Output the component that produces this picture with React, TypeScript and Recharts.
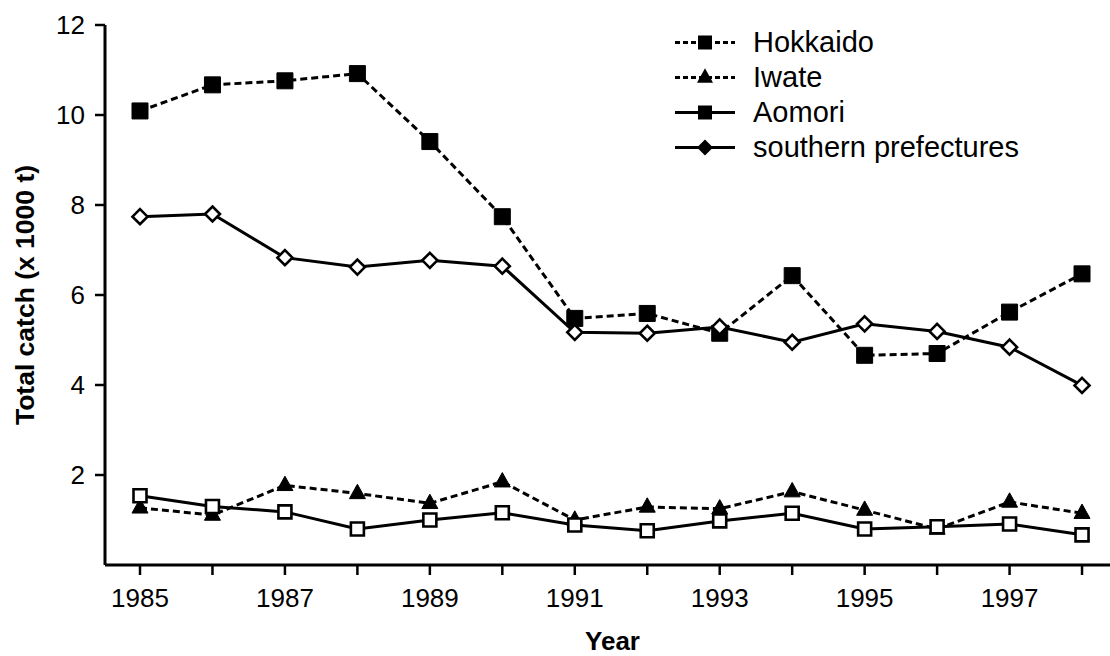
import React from 'react';
import { LineChart, Line, XAxis, YAxis, Legend, Label } from 'recharts';

const FONT = '"Liberation Sans", Arial, Helvetica, sans-serif';

const YEARS = [1985, 1986, 1987, 1988, 1989, 1990, 1991, 1992, 1993, 1994, 1995, 1996, 1997, 1998];
const HOKKAIDO = [10.09, 10.67, 10.76, 10.92, 9.41, 7.74, 5.48, 5.59, 5.15, 6.43, 4.66, 4.7, 5.62, 6.47];
const IWATE = [1.27, 1.11, 1.77, 1.59, 1.37, 1.85, 1.0, 1.29, 1.25, 1.63, 1.22, 0.8, 1.4, 1.15];
const AOMORI = [1.54, 1.3, 1.18, 0.8, 1.0, 1.16, 0.89, 0.76, 0.98, 1.15, 0.8, 0.85, 0.91, 0.67];
const SOUTHERN = [7.74, 7.8, 6.83, 6.62, 6.77, 6.64, 5.17, 5.15, 5.29, 4.95, 5.36, 5.19, 4.84, 3.99];
const Y_TICKS = [2, 4, 6, 8, 10, 12];

const data = YEARS.map((year, i) => ({
  year,
  hokkaido: HOKKAIDO[i],
  iwate: IWATE[i],
  aomori: AOMORI[i],
  southern: SOUTHERN[i],
}));

type Shape = 'square' | 'triangle' | 'diamond';

function markerPath(shape: Shape, cx: number, cy: number, r: number): string {
  if (shape === 'square') {
    return `M${cx - r},${cy - r}H${cx + r}V${cy + r}H${cx - r}Z`;
  }
  if (shape === 'triangle') {
    return `M${cx},${cy - r * 1.15}L${cx + r},${cy + r * 0.65}L${cx - r},${cy + r * 0.65}Z`;
  }
  return `M${cx},${cy - r}L${cx + r},${cy}L${cx},${cy + r}L${cx - r},${cy}Z`;
}

function makeDot(shape: Shape, r: number, filled: boolean) {
  return (props: any) => {
    const { cx, cy, index } = props;
    if (cx == null || cy == null) return <g key={index} />;
    return (
      <path
        key={index}
        d={markerPath(shape, cx, cy, r)}
        fill={filled ? '#000' : '#fff'}
        stroke="#000"
        strokeWidth={filled ? 1 : 2.6}
        strokeLinejoin="miter"
      />
    );
  };
}

const LEGEND_ITEMS: { label: string; dashed: boolean; shape: Shape }[] = [
  { label: 'Hokkaido', dashed: true, shape: 'square' },
  { label: 'Iwate', dashed: true, shape: 'triangle' },
  { label: 'Aomori', dashed: false, shape: 'square' },
  { label: 'southern prefectures', dashed: false, shape: 'diamond' },
];

function LegendBox() {
  return (
    <div style={{ fontFamily: FONT, fontSize: 29, color: '#000' }}>
      {LEGEND_ITEMS.map((item) => (
        <div key={item.label} style={{ display: 'flex', alignItems: 'center', height: 35 }}>
          <svg width={60} height={35} style={{ marginRight: 18, flexShrink: 0 }}>
            <line
              x1={0}
              x2={60}
              y1={17.5}
              y2={17.5}
              stroke="#000"
              strokeWidth={3}
              strokeDasharray={item.dashed ? '5 3' : undefined}
            />
            <path
              d={markerPath(item.shape, 30, 17.5, item.shape === 'square' ? 7 : 8)}
              fill="#000"
            />
          </svg>
          <span style={{ whiteSpace: 'nowrap', lineHeight: '35px' }}>{item.label}</span>
        </div>
      ))}
    </div>
  );
}

const tickStyle = { fill: '#000', fontSize: 26, fontFamily: FONT };

export default function App() {
  return (
    <div style={{ position: 'absolute', left: 0, top: 0, background: '#fff' }}>
      <LineChart width={1110} height={656} data={data} margin={{ top: 25, right: 0, left: 0, bottom: 0 }}>
        <XAxis
          dataKey="year"
          type="number"
          domain={[1984.517, 1998.386]}
          allowDataOverflow
          ticks={YEARS}
          tickFormatter={(v: number) => (v % 2 === 1 ? String(v) : '')}
          interval={0}
          height={91}
          tick={tickStyle}
          tickSize={10}
          tickMargin={14}
          axisLine={{ stroke: '#000', strokeWidth: 3 }}
          tickLine={{ stroke: '#000', strokeWidth: 2.5 }}
        >
          <Label
            value="Year"
            position="insideBottom"
            offset={6}
            dx={5}
            style={{ fill: '#000', fontSize: 26, fontWeight: 'bold', fontFamily: FONT }}
          />
        </XAxis>
        <YAxis
          type="number"
          domain={[0, 12]}
          ticks={Y_TICKS}
          interval={0}
          width={105}
          tick={tickStyle}
          tickSize={10}
          tickMargin={10}
          axisLine={{ stroke: '#000', strokeWidth: 3 }}
          tickLine={{ stroke: '#000', strokeWidth: 2.5 }}
        >
          <Label
            value="Total catch (x 1000 t)"
            angle={-90}
            position="insideLeft"
            offset={25}
            style={{ textAnchor: 'middle', fill: '#000', fontSize: 26.5, fontWeight: 'bold', fontFamily: FONT }}
          />
        </YAxis>
        <Legend
          layout="vertical"
          align="center"
          verticalAlign="middle"
          content={() => <LegendBox />}
          wrapperStyle={{ top: 25, left: 675, width: 420, height: 142 }}
        />
        <Line
          dataKey="hokkaido"
          stroke="#000"
          strokeWidth={3}
          strokeDasharray="7 4"
          dot={makeDot('square', 8, true)}
          isAnimationActive={false}
        />
        <Line
          dataKey="iwate"
          stroke="#000"
          strokeWidth={3}
          strokeDasharray="7 4"
          dot={makeDot('triangle', 8, true)}
          isAnimationActive={false}
        />
        <Line
          dataKey="aomori"
          stroke="#000"
          strokeWidth={3}
          dot={makeDot('square', 6.5, false)}
          isAnimationActive={false}
        />
        <Line
          dataKey="southern"
          stroke="#000"
          strokeWidth={3}
          dot={makeDot('diamond', 7.5, false)}
          isAnimationActive={false}
        />
      </LineChart>
    </div>
  );
}
